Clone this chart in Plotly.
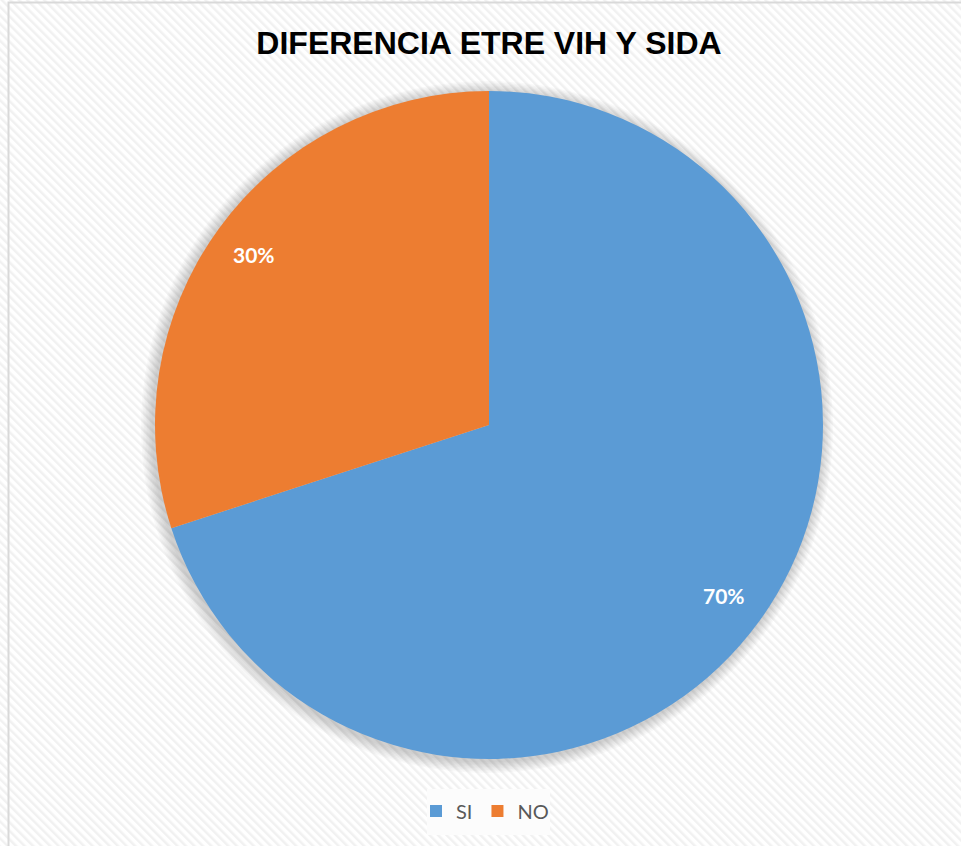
import base64
import math
import plotly.graph_objects as go

# ---- data ----
categories = ["SI", "NO"]
values = [70, 30]
colors = ["#5B9BD5", "#ED7D31"]
title_text = "DIFERENCIA ETRE VIH Y SIDA"

W, H = 961, 846
ML, MR, MT, MB = 155, 138, 91, 87
PW = W - ML - MR
PH = H - MT - MB

fig = go.Figure()
fig.add_trace(go.Pie(
    labels=categories,
    values=values,
    sort=False,
    direction="clockwise",
    rotation=0,
    marker=dict(colors=colors, line=dict(width=0)),
    textinfo="none",
    hoverinfo="label+percent",
    domain=dict(x=[0, 1], y=[0, 1]),
))

# percentage labels at mid-angle of each slice
total = sum(values)
annotations = []
cum = 0
for v in values:
    mid = (cum + v / 2) / total * 2 * math.pi
    cum += v
    rf = 0.87
    annotations.append(dict(
        x=0.5 + 0.5 * rf * math.sin(mid),
        y=0.5 + 0.5 * rf * math.cos(mid),
        xref="paper", yref="paper",
        xanchor="center", yanchor="middle",
        text=f"<b>{round(v / total * 100)}%</b>",
        showarrow=False,
        font=dict(family="Lato, Open Sans, sans-serif", size=21, color="white"),
    ))

# background diagonal hatch pattern
svg = f'''<svg xmlns="http://www.w3.org/2000/svg" width="{W}" height="{H}">
<defs><pattern id="p" width="6" height="6" patternUnits="userSpaceOnUse" patternTransform="rotate(-45)">
<rect width="6" height="6" fill="#ffffff"/><rect width="2.5" height="6" fill="#f1f1f1"/></pattern></defs>
<rect width="{W}" height="{H}" fill="url(#p)"/>
<rect x="8.5" y="2.5" width="{W+10}" height="{H+10}" fill="none" stroke="#d9d9d9" stroke-width="2"/>
<rect x="427" y="789" width="123" height="46" fill="#fcfcfc"/>
</svg>'''
uri = "data:image/svg+xml;base64," + base64.b64encode(svg.encode()).decode()

images = [dict(
    source=uri, xref="paper", yref="paper",
    x=-ML / PW, y=1 + MT / PH, sizex=W / PW, sizey=H / PH,
    xanchor="left", yanchor="top", sizing="stretch", layer="below",
)]

# soft shadow around the pie
shapes = []
for i in range(8):
    d = (i + 1) * 1.5 / PW
    shapes.append(dict(
        type="circle", xref="paper", yref="paper",
        x0=0 - d - 0.003, x1=1 + d - 0.003, y0=0 - d - 0.003, y1=1 + d - 0.003,
        fillcolor="rgba(0,0,0,0.025)", line=dict(width=0), layer="below",
    ))

fig.update_layout(
    width=W, height=H,
    margin=dict(l=ML, r=MR, t=MT, b=MB),
    paper_bgcolor="white",
    plot_bgcolor="rgba(0,0,0,0)",
    title=dict(
        text=f"<b>{title_text}</b>",
        x=(ML + PW / 2) / W, xanchor="center",
        y=1 - 43 / H, yanchor="middle",
        font=dict(family="Liberation Sans, Arial, sans-serif", size=32, color="black"),
    ),
    legend=dict(
        orientation="h",
        x=0.5 - 4 / PW, xanchor="center",
        y=-(811 - (MT + PH)) / PH, yanchor="middle",
        font=dict(family="Lato, Open Sans, sans-serif", size=20, color="#595959"),
        bgcolor="rgba(0,0,0,0)",
        itemwidth=30,
    ),
    annotations=annotations,
    images=images,
    shapes=shapes,
)

fig.write_html("out.html", config={"displayModeBar": False},
               post_script="document.body.style.margin='0';document.body.style.overflow='hidden';")
